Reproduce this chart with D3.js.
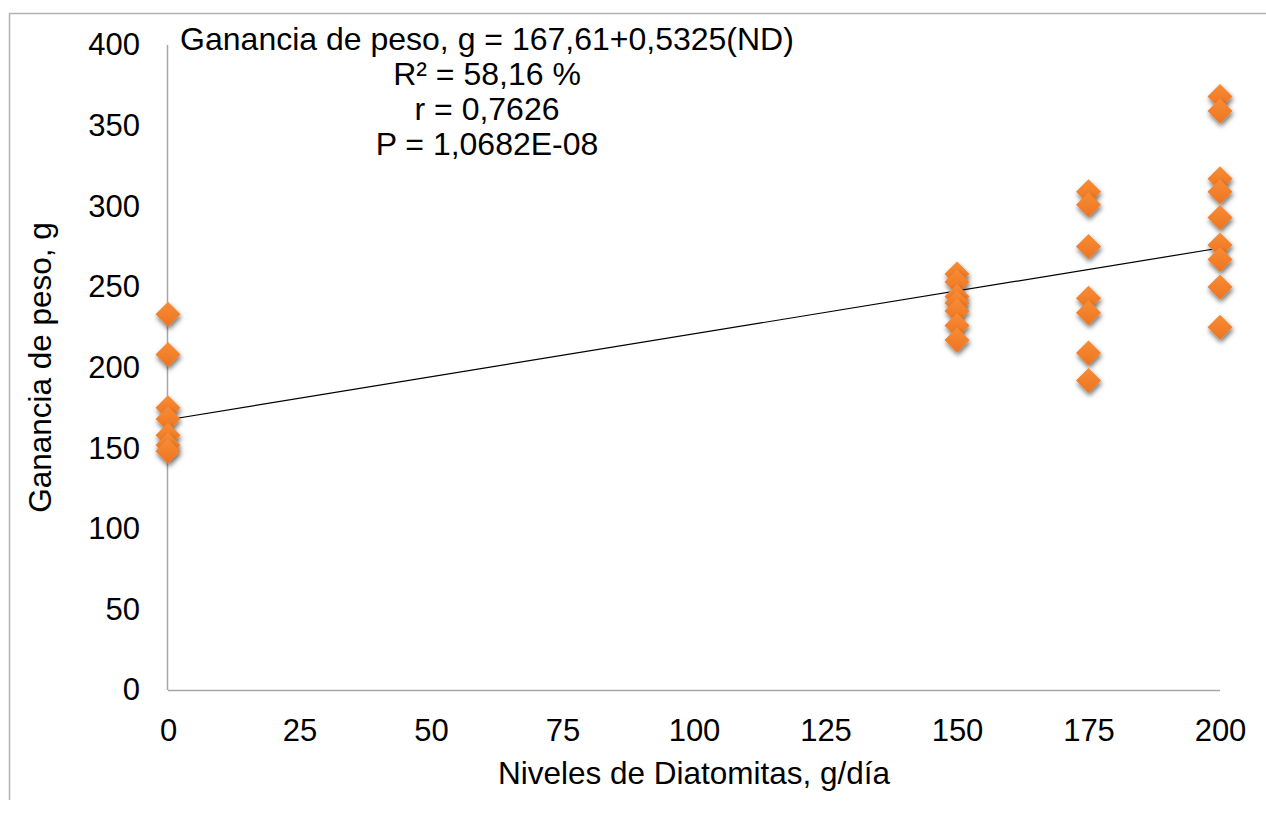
<!DOCTYPE html>
<html>
<head>
<meta charset="utf-8">
<script src="https://cdn.jsdelivr.net/npm/d3@7"></script>
<style>
  body { margin: 0; background: #fff; }
  text { font-family: "Liberation Sans", Arial, sans-serif; fill: #000; }
</style>
</head>
<body>
<div id="chart"></div>
<script>
// data
const levels = [0, 150, 175, 200];
const gain0 = [233, 208, 175, 168, 158, 152, 148];
const gain150 = [258, 253, 244, 240, 235, 226, 217];
const gain175 = [309, 301, 275, 243, 234, 209, 192];
const gain200 = [368, 359, 317, 309, 293, 276, 267, 250, 225];
const xTicks = [0, 25, 50, 75, 100, 125, 150, 175, 200];
const yTicks = [0, 50, 100, 150, 200, 250, 300, 350, 400];
const intercept = 167.61, slope = 0.5325;
const notes = [
  "Ganancia de peso, g = 167,61+0,5325(ND)",
  "R² = 58,16 %",
  "r = 0,7626",
  "P = 1,0682E-08"
];

const W = 1266, H = 814;
const margin = { top: 45, right: 46, bottom: 124, left: 168 };
const width = W - margin.left - margin.right;
const height = H - margin.top - margin.bottom;

const svgRoot = d3.select("#chart").append("svg")
    .attr("width", W)
    .attr("height", H);

// outer frame (only top and left edges show)
svgRoot.append("path")
    .attr("d", `M9.5,800 V13.5 H${W}`)
    .attr("fill", "none")
    .attr("stroke", "#b3b3b3")
    .attr("stroke-width", 1.5);

const defs = svgRoot.append("defs");
const grad = defs.append("linearGradient")
    .attr("id", "dgrad")
    .attr("x1", "0%").attr("y1", "0%")
    .attr("x2", "0%").attr("y2", "100%");
grad.append("stop").attr("offset", "0%").attr("stop-color", "#f98c34");
grad.append("stop").attr("offset", "100%").attr("stop-color", "#ec7422");

const shadow = defs.append("filter")
    .attr("id", "shadow")
    .attr("x", "-50%").attr("y", "-50%")
    .attr("width", "200%").attr("height", "200%");
shadow.append("feDropShadow")
    .attr("dx", 1).attr("dy", 3)
    .attr("stdDeviation", 2.5)
    .attr("flood-color", "#000")
    .attr("flood-opacity", 0.55);

const svg = svgRoot.append("g")
    .attr("transform", `translate(${margin.left}, ${margin.top})`);

const x = d3.scaleLinear().domain([0, 200]).range([0, width]);
const y = d3.scaleLinear().domain([0, 400]).range([height, 0]);

// axes
const xAxis = svg.append("g")
    .attr("transform", `translate(0, ${height})`)
    .call(d3.axisBottom(x).tickValues(xTicks).tickSize(0).tickPadding(29));
xAxis.select(".domain").attr("stroke", "#a6a6a6").attr("stroke-width", 1.5)
    .attr("d", `M0,0.5H${width}`);
xAxis.selectAll("text").style("font-size", "31px");

const yAxis = svg.append("g")
    .call(d3.axisLeft(y).tickValues(yTicks).tickSize(0).tickPadding(28));
yAxis.select(".domain").attr("stroke", "#a6a6a6").attr("stroke-width", 1.5)
    .attr("d", `M-0.5,${height}V0`);
yAxis.selectAll("text").style("font-size", "31px");

// axis titles
svg.append("text")
    .attr("x", width / 2)
    .attr("y", height + 94)
    .attr("text-anchor", "middle")
    .style("font-size", "31.5px")
    .text("Niveles de Diatomitas, g/día");

svg.append("text")
    .attr("transform", `translate(${-117}, ${height / 2}) rotate(-90)`)
    .attr("text-anchor", "middle")
    .style("font-size", "31.5px")
    .text("Ganancia de peso, g");

// trend line
svg.append("line")
    .attr("x1", x(0)).attr("y1", y(intercept))
    .attr("x2", x(200)).attr("y2", y(intercept + slope * 200))
    .attr("stroke", "#000")
    .attr("stroke-width", 1.2);

// points
const points = [];
[gain0, gain150, gain175, gain200].forEach((arr, i) => {
    arr.forEach(v => points.push({ level: levels[i], value: v }));
});

const s = 12.5;
svg.selectAll(".pt")
  .data(points)
  .join("path")
    .attr("class", "pt")
    .attr("d", `M0,${-s}L${s},0L0,${s}L${-s},0Z`)
    .attr("transform", d => `translate(${x(d.level)}, ${y(d.value)})`)
    .attr("fill", "url(#dgrad)")
    .attr("filter", "url(#shadow)");

// equation and stats
svg.selectAll(".note")
  .data(notes)
  .join("text")
    .attr("class", "note")
    .attr("x", 319)
    .attr("y", (d, i) => 4.5 + i * 35)
    .attr("text-anchor", "middle")
    .style("font-size", "32px")
    .text(d => d);
</script>
</body>
</html>
